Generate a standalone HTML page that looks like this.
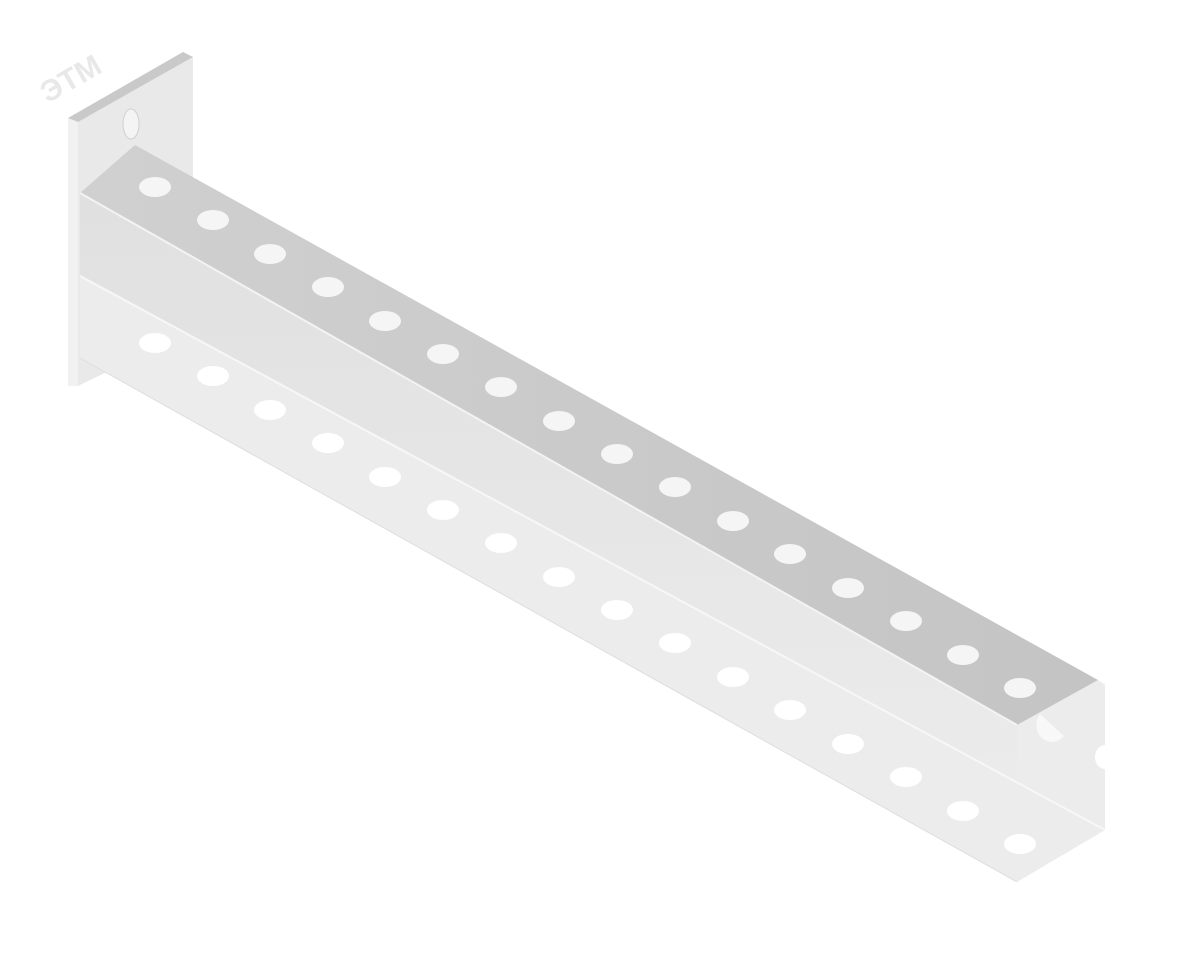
<!DOCTYPE html>
<html><head><meta charset="utf-8"><style>html,body{margin:0;padding:0;background:#fff;}svg{display:block}</style></head>
<body>
<svg width="1200" height="954" viewBox="0 0 1200 954" xmlns="http://www.w3.org/2000/svg">
<defs>
<linearGradient id="web" x1="0" y1="0" x2="0" y2="1"><stop offset="0" stop-color="#e0e0e0"/><stop offset="1" stop-color="#ececec"/></linearGradient>
<linearGradient id="top" x1="0" y1="0" x2="1" y2="0"><stop offset="0" stop-color="#d0d0d0"/><stop offset="1" stop-color="#c4c4c4"/></linearGradient>
</defs>
<text x="40" y="95" transform="rotate(-30 60 85)" font-family="Liberation Sans, DejaVu Sans, sans-serif" font-size="30" font-weight="bold" fill="#e8e8e8">ЭТМ</text>
<!-- plate -->
<polygon points="78,122 193,57 193,330 78,386" fill="#e9e9e9"/>
<polygon points="68,118 78,122 78,386 68,386" fill="#f1f1f1"/>
<polygon points="68,118 183,52 193,57 78,122" fill="#c9c9c9"/>
<ellipse cx="131" cy="124" rx="8" ry="15" fill="#f4f4f4" stroke="#d0d0d0" stroke-width="1"/>
<!-- web + end -->
<polygon points="80,193 1017,725 1098,680 1105,685 1105,830 80,276" fill="url(#web)"/>
<polygon points="1098,680 1105,685 1105,830 1017,780 1017,725" fill="#ececec"/>
<path d="M1105,745 a10,12 0 0 0 0,24 z" fill="#fff"/>
<path d="M1040,714 a13,14 0 0 0 24,22 z" fill="#f8f8f8"/>
<!-- bottom flange -->
<polygon points="80,276 1105,830 1017,882 80,358" fill="#ececec"/>
<line x1="80" y1="276" x2="1105" y2="830" stroke="#f7f7f7" stroke-width="2"/>
<line x1="80" y1="358" x2="1017" y2="882" stroke="#dedede" stroke-width="1"/>
<!-- top flange -->
<polygon points="135,145 1098,680 1017,725 80,193" fill="url(#top)"/>
<line x1="80" y1="193" x2="1017" y2="725" stroke="#f3f3f3" stroke-width="2"/>
<g fill="#f5f5f5">
<ellipse cx="155" cy="187" rx="16" ry="10"/><ellipse cx="213" cy="220" rx="16" ry="10"/><ellipse cx="270" cy="254" rx="16" ry="10"/><ellipse cx="328" cy="287" rx="16" ry="10"/><ellipse cx="385" cy="321" rx="16" ry="10"/><ellipse cx="443" cy="354" rx="16" ry="10"/><ellipse cx="501" cy="387" rx="16" ry="10"/><ellipse cx="559" cy="421" rx="16" ry="10"/><ellipse cx="617" cy="454" rx="16" ry="10"/><ellipse cx="675" cy="487" rx="16" ry="10"/><ellipse cx="733" cy="521" rx="16" ry="10"/><ellipse cx="790" cy="554" rx="16" ry="10"/><ellipse cx="848" cy="588" rx="16" ry="10"/><ellipse cx="906" cy="621" rx="16" ry="10"/><ellipse cx="963" cy="655" rx="16" ry="10"/><ellipse cx="1020" cy="688" rx="16" ry="10"/>
</g>
<g fill="#ffffff">
<ellipse cx="155" cy="343" rx="16" ry="10"/><ellipse cx="213" cy="376" rx="16" ry="10"/><ellipse cx="270" cy="410" rx="16" ry="10"/><ellipse cx="328" cy="443" rx="16" ry="10"/><ellipse cx="385" cy="477" rx="16" ry="10"/><ellipse cx="443" cy="510" rx="16" ry="10"/><ellipse cx="501" cy="543" rx="16" ry="10"/><ellipse cx="559" cy="577" rx="16" ry="10"/><ellipse cx="617" cy="610" rx="16" ry="10"/><ellipse cx="675" cy="643" rx="16" ry="10"/><ellipse cx="733" cy="677" rx="16" ry="10"/><ellipse cx="790" cy="710" rx="16" ry="10"/><ellipse cx="848" cy="744" rx="16" ry="10"/><ellipse cx="906" cy="777" rx="16" ry="10"/><ellipse cx="963" cy="811" rx="16" ry="10"/><ellipse cx="1020" cy="844" rx="16" ry="10"/>
</g>
</svg>
</body></html>
